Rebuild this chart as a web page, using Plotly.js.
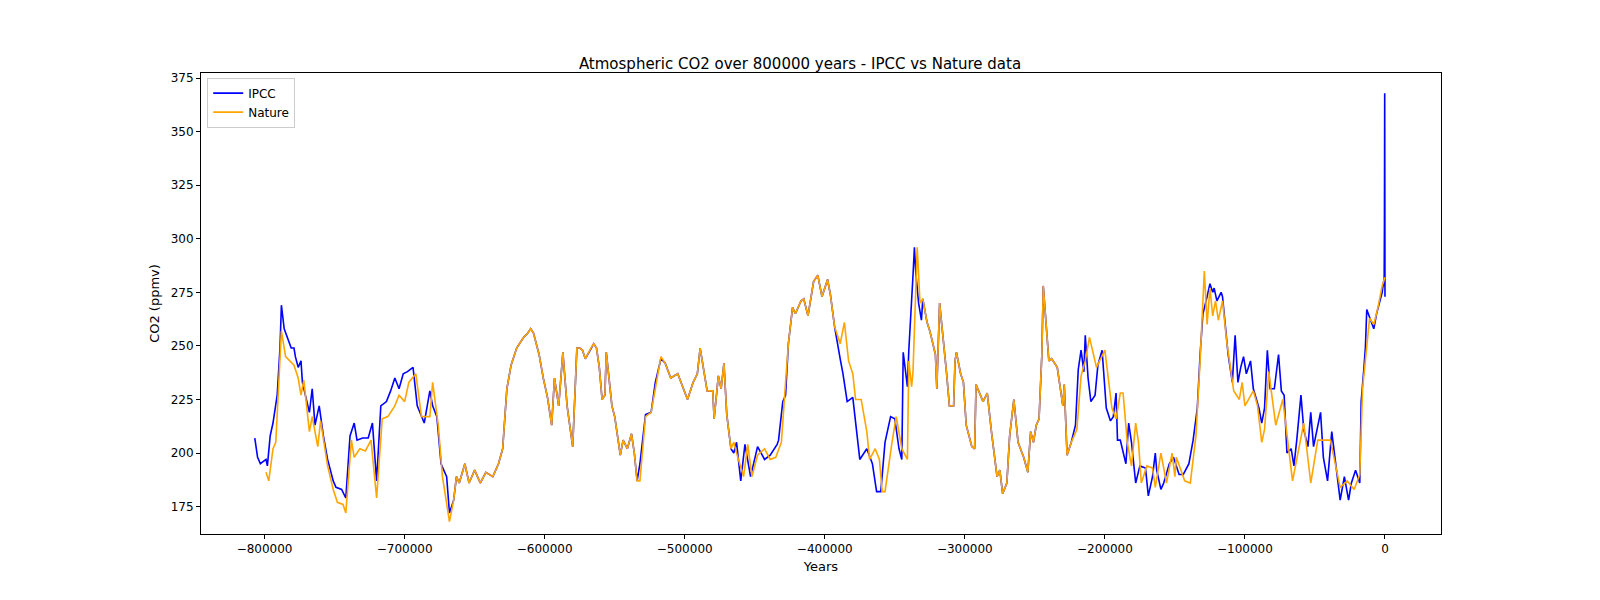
<!DOCTYPE html>
<html><head><meta charset="utf-8">
<script src="https://cdn.plot.ly/plotly-3.0.1.min.js"></script>
<style>body{margin:0;background:#fff}</style></head>
<body><div id="chart" style="width:1600px;height:600px"></div>
<script>
// [kyr before present (negative), CO2 ppmv]
const ipccEarly = [[-807,207],[-806,203],[-805,198],[-803,195],[-799,197],[-798,194],[-796,208],[-794,214],[-792,224],[-791,227],[-789,249],[-788,269],[-786,258],[-784,254],[-781,249],[-779,249],[-778,245],[-776,240],[-774,243],[-773,233],[-771,227],[-768,219],[-766,230],[-764,213],[-761,222],[-758,208],[-755,197],[-751,187],[-749,184],[-745,183],[-742,179],[-739,208],[-736,214],[-734,206],[-730,207],[-726,207],[-723,214],[-720,187],[-717,222],[-713,224],[-710,229],[-707,235],[-704,230],[-701,237],[-698,238],[-694,240],[-691,222],[-686,214],[-682,229],[-680,222],[-677,217],[-674,195],[-670,189],[-668,172]];
const sharedA = [[-665,178],[-663,189],[-661,186],[-657,195],[-654,186],[-650,192],[-646,186],[-642,191],[-637,189],[-633,195],[-630,202],[-627,230],[-624,241],[-620,249],[-615,254],[-612,256],[-610,258],[-608,256],[-604,246],[-601,235],[-598,226],[-595,213],[-593,235],[-590,222],[-587,247],[-584,222],[-580,203],[-577,249],[-575,249],[-573,248],[-571,244],[-567,249],[-565,251],[-563,249],[-561,240],[-559,225],[-557,227],[-556,247],[-552,222],[-550,217],[-546,199],[-544,206],[-541,202],[-538,209],[-536,200],[-534,187]];
const ipccMidA = [[-532,195],[-528,218],[-524,219],[-521,233],[-517,244]];
const natureMidA = [[-532,187],[-528,217],[-524,219],[-521,230],[-517,245]];
const sharedB = [[-514,242],[-510,235],[-505,237],[-501,230],[-498,225],[-494,233],[-491,237],[-489,249],[-486,238],[-484,229],[-480,229],[-479,216],[-476,236],[-474,230],[-472,242],[-470,218],[-467,202]];
const ipccMidB = [[-465,200],[-463,205],[-460,187],[-457,204],[-453,189],[-448,203],[-443,197],[-439,199],[-434,204],[-433,206],[-430,224],[-428,227],[-426,251]];
const natureMidB = [[-465,205],[-463,200],[-458,189],[-455,204],[-452,189],[-448,199],[-443,202],[-439,197],[-435,198],[-431,205],[-430,216],[-428,233],[-426,251]];
const sharedC = [[-423,268],[-421,265],[-417,271],[-415,272],[-412,264],[-408,280],[-405,283],[-402,273],[-398,281],[-396,274],[-393,259]];
const ipccMidC = [[-390,246],[-389,244],[-387,237],[-384,224],[-380,226],[-375,197],[-370,202],[-366,195],[-363,182],[-360,182],[-357,205],[-353,217],[-350,216],[-347,202],[-345,197],[-344,247],[-341,231],[-340,248],[-337,283],[-336,296],[-335,284],[-333,270],[-331,262]];
const natureMidC = [[-389,251],[-386,261],[-383,243],[-380,237],[-378,225],[-374,225],[-370,210],[-368,197],[-364,202],[-361,197],[-359,182],[-357,182],[-352,205],[-349,217],[-345,202],[-341,197],[-340,243],[-338,231],[-337,238],[-334,296],[-332,270]];
const sharedD = [[-330,272],[-327,261],[-325,257],[-321,246],[-320,230],[-318,270],[-315,252],[-313,237],[-311,222],[-308,222],[-307,243],[-306,247],[-303,237],[-301,233],[-299,213],[-295,203],[-293,202],[-292,232],[-287,224],[-284,228],[-281,210],[-277,189],[-275,192],[-273,181],[-270,186],[-268,208],[-265,225],[-262,205],[-258,198],[-255,191],[-253,210],[-251,205],[-249,213],[-247,216],[-245,246],[-244,278],[-240,243],[-238,244],[-234,240],[-232,230],[-230,222],[-229,232],[-227,199],[-224,205]];
const ipccMidD = [[-221,213],[-219,239],[-217,248],[-215,238],[-214,255],[-212,235],[-210,224],[-207,227],[-205,241],[-202,248],[-199,221],[-196,215],[-194,217],[-192,228],[-191,206]];
const natureMidD = [[-220,211],[-217,236],[-214,243],[-211,254],[-206,240],[-200,248],[-198,238],[-195,221],[-192,216]];
const ipccLate = [[-189,206],[-185,195],[-183,214],[-181,205],[-178,186],[-175,194],[-171,193],[-169,180],[-166,189],[-164,200],[-163,192],[-160,183],[-158,186],[-154,195],[-151,198],[-147,190],[-144,190],[-140,195],[-137,206],[-134,221],[-132,246],[-130,265],[-127,273],[-125,279],[-123,275],[-122,277],[-120,271],[-117,275],[-116,273],[-114,259],[-112,246],[-109,233],[-107,255],[-105,233],[-103,240],[-101,245],[-99,237],[-96,243],[-94,230],[-90,221],[-88,214],[-86,221],[-84,248],[-82,230],[-79,230],[-76,246],[-74,229],[-72,227],[-70,200],[-67,202],[-65,194],[-63,206],[-60,227],[-58,211],[-55,203],[-53,219],[-51,203],[-46,219],[-44,198],[-41,187],[-38,210],[-35,194],[-32,178],[-29,189],[-26,178],[-24,186],[-21,192],[-18,186],[-17,224],[-15,240],[-14,249],[-13,267],[-10,262],[-8,258],[-6,265],[-4,270],[-2,275],[-1,280],[-0.6,278],[-0.4,305],[-0.2,368],[-0.1,300],[0,273]];
const natureEarly = [[-799,191],[-797,187],[-794,202],[-792,205],[-791,218],[-788,257],[-785,245],[-782,243],[-779,241],[-776,235],[-774,227],[-772,234],[-768,210],[-766,217],[-762,203],[-760,215],[-755,194],[-751,183],[-748,177],[-744,176],[-742,172],[-738,206],[-736,198],[-732,202],[-728,201],[-724,206],[-720,179],[-716,216],[-712,217],[-707,222],[-704,227],[-700,224],[-697,233],[-692,237],[-688,217],[-682,217],[-680,233],[-676,213],[-673,189],[-668,168]];
const natureLate = [[-189,228],[-187,228],[-184,205],[-181,194],[-178,214],[-176,205],[-174,186],[-170,194],[-166,193],[-164,184],[-160,200],[-156,186],[-152,200],[-150,189],[-149,198],[-143,187],[-139,186],[-135,208],[-132,243],[-129,285],[-127,260],[-125,277],[-123,264],[-121,271],[-119,262],[-116,271],[-113,252],[-108,229],[-104,225],[-102,233],[-100,222],[-94,229],[-91,222],[-88,205],[-86,211],[-83,238],[-78,213],[-73,225],[-66,187],[-58,214],[-53,186],[-48,206],[-39,206],[-32,184],[-27,187],[-22,183],[-18,190],[-16,230],[-11,263],[-8,260],[-5,268],[-2,278],[0,282]];

const ipccPts = [].concat(ipccEarly, sharedA, ipccMidA, sharedB, ipccMidB, sharedC, ipccMidC, sharedD, ipccMidD, ipccLate);
const naturePts = [].concat(natureEarly, sharedA, natureMidA, sharedB, natureMidB, sharedC, natureMidC, sharedD, natureMidD, natureLate);
const xTicks = [-800000,-700000,-600000,-500000,-400000,-300000,-200000,-100000,0];

const traces = [
  {x: ipccPts.map(p => p[0] * 1000), y: ipccPts.map(p => p[1]), name: 'IPCC', type: 'scatter', mode: 'lines', line: {color: 'blue', width: 1.6}},
  {x: naturePts.map(p => p[0] * 1000), y: naturePts.map(p => p[1]), name: 'Nature', type: 'scatter', mode: 'lines', line: {color: 'orange', width: 1.6}}
];
const axisBase = {showgrid: false, zeroline: false, showline: true, mirror: true, linecolor: 'black', linewidth: 1,
  ticks: 'outside', ticklen: 4, tickcolor: 'black', tickfont: {size: 12, color: 'black'}};
const layout = {
  width: 1600, height: 600,
  margin: {l: 201, r: 159, t: 73, b: 66},
  paper_bgcolor: 'white', plot_bgcolor: 'white',
  font: {family: 'DejaVu Sans', color: 'black'},
  title: {text: 'Atmospheric CO2 over 800000 years - IPCC vs Nature data', font: {size: 15}, x: 0.5, xanchor: 'center', y: 0.885, yanchor: 'bottom'},
  xaxis: Object.assign({}, axisBase, {range: [-845400, 40000], tickvals: xTicks, tickformat: 'd',
    title: {text: 'Years', font: {size: 13}, standoff: 6}}),
  yaxis: Object.assign({}, axisBase, {range: [162.2, 377.4], dtick: 25, tick0: 175,
    title: {text: 'CO2 (ppmv)', font: {size: 13}, standoff: 8}}),
  showlegend: true,
  legend: {x: 0.005, y: 0.99, xanchor: 'left', yanchor: 'top', bgcolor: 'rgba(255,255,255,0.8)', bordercolor: '#ccc', borderwidth: 1, font: {size: 12}}
};
Plotly.newPlot('chart', traces, layout, {displayModeBar: false, staticPlot: true});
</script></body></html>
